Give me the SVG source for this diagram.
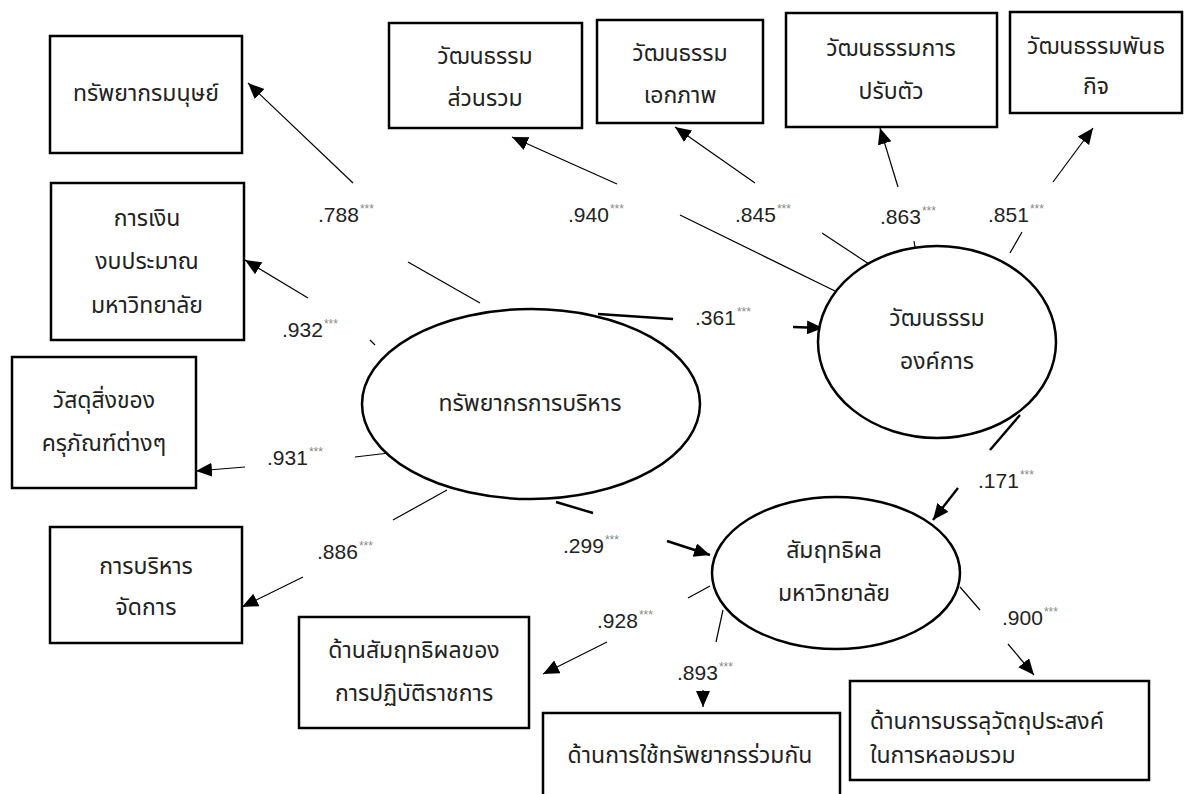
<svg xmlns="http://www.w3.org/2000/svg" width="1194" height="794" viewBox="0 0 1194 794">
<style>
.box{fill:#fff;stroke:#000;stroke-width:2.5}
.ell{fill:#fff;stroke:#000;stroke-width:2.5}
.t{font-family:"Noto Sans Thai","Liberation Sans","DejaVu Sans",sans-serif;font-size:23px;fill:#222;text-anchor:middle}
.tl{text-anchor:start}
.thin{stroke:#000;stroke-width:1.2;fill:none}
.thick{stroke:#000;stroke-width:2.4;fill:none}
.n{font-family:"Liberation Sans",Arial,sans-serif;font-size:21px;fill:#222}
.s{font-size:12px;fill:#888}
</style>
<defs>
<marker id="ah" markerUnits="userSpaceOnUse" markerWidth="18" markerHeight="16" refX="16" refY="7" orient="auto">
<path d="M0,0 L16,7 L0,14 z" fill="#000"/>
</marker>
</defs>
<rect width="1194" height="794" fill="#fff"/>

<g id="connectors">
<line class="thin" x1="480" y1="303" x2="408" y2="262"/>
<line class="thin" x1="353" y1="183" x2="248" y2="83" marker-end="url(#ah)"/>
<line class="thin" x1="375" y1="345" x2="370" y2="340"/>
<line class="thin" x1="308" y1="298" x2="245" y2="260" marker-end="url(#ah)"/>
<line class="thin" x1="389" y1="453" x2="355" y2="457"/>
<line class="thin" x1="245" y1="467" x2="196" y2="471" marker-end="url(#ah)"/>
<line class="thin" x1="447" y1="490" x2="393" y2="520"/>
<line class="thin" x1="303" y1="577" x2="242" y2="607" marker-end="url(#ah)"/>
<line class="thin" x1="837" y1="292" x2="680" y2="215"/>
<line class="thin" x1="617" y1="184" x2="512" y2="137" marker-end="url(#ah)"/>
<line class="thin" x1="875" y1="268" x2="822" y2="233"/>
<line class="thin" x1="755" y1="183" x2="675" y2="127" marker-end="url(#ah)"/>
<line class="thin" x1="915" y1="247" x2="914" y2="241"/>
<line class="thin" x1="898" y1="187" x2="880" y2="128" marker-end="url(#ah)"/>
<line class="thin" x1="1010" y1="253" x2="1022" y2="232"/>
<line class="thin" x1="1053" y1="182" x2="1093" y2="128" marker-end="url(#ah)"/>
<line class="thick" x1="598" y1="314" x2="673" y2="319"/>
<line class="thick" x1="793" y1="327" x2="823" y2="328" marker-end="url(#ah)"/>
<line class="thick" x1="556" y1="502" x2="593" y2="513"/>
<line class="thick" x1="667" y1="541" x2="710" y2="555" marker-end="url(#ah)"/>
<line class="thick" x1="1020" y1="415" x2="990" y2="450"/>
<line class="thick" x1="958" y1="488" x2="933" y2="520" marker-end="url(#ah)"/>
<line class="thin" x1="710" y1="586" x2="688" y2="598"/>
<line class="thin" x1="607" y1="642" x2="543" y2="674" marker-end="url(#ah)"/>
<line class="thin" x1="723" y1="610" x2="716" y2="642"/>
<line class="thin" x1="703" y1="690" x2="703" y2="707" marker-end="url(#ah)"/>
<line class="thin" x1="960" y1="587" x2="980" y2="610"/>
<line class="thin" x1="1008" y1="644" x2="1034" y2="675" marker-end="url(#ah)"/>
</g>

<g id="labels">
<text class="n" x="318" y="222">.788<tspan class="s" dx="1" dy="-9">***</tspan></text>
<text class="n" x="282" y="337">.932<tspan class="s" dx="1" dy="-9">***</tspan></text>
<text class="n" x="267" y="465">.931<tspan class="s" dx="1" dy="-9">***</tspan></text>
<text class="n" x="317" y="559">.886<tspan class="s" dx="1" dy="-9">***</tspan></text>
<text class="n" x="568" y="222">.940<tspan class="s" dx="1" dy="-9">***</tspan></text>
<text class="n" x="735" y="222">.845<tspan class="s" dx="1" dy="-9">***</tspan></text>
<text class="n" x="880" y="224">.863<tspan class="s" dx="1" dy="-9">***</tspan></text>
<text class="n" x="988" y="222">.851<tspan class="s" dx="1" dy="-9">***</tspan></text>
<text class="n" x="695" y="325">.361<tspan class="s" dx="1" dy="-9">***</tspan></text>
<text class="n" x="563" y="553">.299<tspan class="s" dx="1" dy="-9">***</tspan></text>
<text class="n" x="978" y="488">.171<tspan class="s" dx="1" dy="-9">***</tspan></text>
<text class="n" x="597" y="628">.928<tspan class="s" dx="1" dy="-9">***</tspan></text>
<text class="n" x="677" y="680">.893<tspan class="s" dx="1" dy="-9">***</tspan></text>
<text class="n" x="1002" y="625">.900<tspan class="s" dx="1" dy="-9">***</tspan></text>
</g>

<g id="n-human"><rect class="box" x="50" y="36" width="192" height="117"/><text class="t" x="146" y="101">ทรัพยากรมนุษย์</text></g>
<g id="n-finance"><rect class="box" x="51" y="183" width="193" height="157"/><text class="t" x="147" y="226">การเงิน</text><text class="t" x="147" y="269">งบประมาณ</text><text class="t" x="147" y="313">มหาวิทยาลัย</text></g>
<g id="n-material"><rect class="box" x="12" y="357" width="184" height="131"/><text class="t" x="104" y="408">วัสดุสิ่งของ</text><text class="t" x="104" y="451">ครุภัณฑ์ต่างๆ</text></g>
<g id="n-manage"><rect class="box" x="50" y="527" width="192" height="116"/><text class="t" x="146" y="574">การบริหาร</text><text class="t" x="146" y="615">จัดการ</text></g>

<g id="n-c1"><rect class="box" x="389" y="23" width="193" height="105"/><text class="t" x="485" y="64">วัฒนธรรม</text><text class="t" x="485" y="106">ส่วนรวม</text></g>
<g id="n-c2"><rect class="box" x="597" y="20" width="166" height="103"/><text class="t" x="680" y="61">วัฒนธรรม</text><text class="t" x="680" y="103">เอกภาพ</text></g>
<g id="n-c3"><rect class="box" x="786" y="13" width="211" height="114"/><text class="t" x="891" y="56">วัฒนธรรมการ</text><text class="t" x="891" y="99">ปรับตัว</text></g>
<g id="n-c4"><rect class="box" x="1010" y="12" width="172" height="101"/><text class="t" x="1096" y="54">วัฒนธรรมพันธ</text><text class="t" x="1096" y="94">กิจ</text></g>

<g id="n-resource"><ellipse class="ell" cx="531" cy="404" rx="169" ry="95"/><text class="t" x="530" y="411">ทรัพยากรการบริหาร</text></g>
<g id="n-culture"><ellipse class="ell" cx="937" cy="342" rx="119" ry="96"/><text class="t" x="937" y="326">วัฒนธรรม</text><text class="t" x="937" y="369">องค์การ</text></g>
<g id="n-effect"><ellipse class="ell" cx="836" cy="573" rx="124" ry="76"/><text class="t" x="834" y="558">สัมฤทธิผล</text><text class="t" x="834" y="601">มหาวิทยาลัย</text></g>

<g id="n-e1"><rect class="box" x="299" y="617" width="230" height="111"/><text class="t" x="414" y="658">ด้านสัมฤทธิผลของ</text><text class="t" x="414" y="701">การปฏิบัติราชการ</text></g>
<g id="n-e2"><rect class="box" x="543" y="713" width="297" height="90"/><text class="t" x="690" y="763">ด้านการใช้ทรัพยากรร่วมกัน</text></g>
<g id="n-e3"><rect class="box" x="850" y="681" width="299" height="99"/><text class="t tl" x="870" y="729">ด้านการบรรลุวัตถุประสงค์</text><text class="t tl" x="870" y="763">ในการหลอมรวม</text></g>
</svg>
